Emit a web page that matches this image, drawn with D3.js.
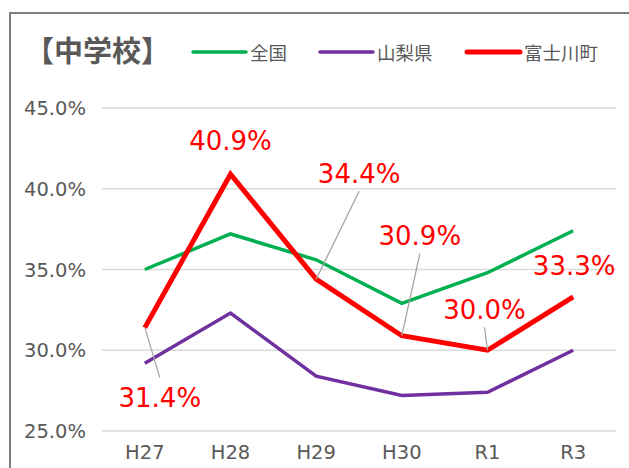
<!DOCTYPE html>
<html>
<head>
<meta charset="utf-8">
<script src="https://cdn.jsdelivr.net/npm/d3@7"></script>
<style>
  body { margin: 0; background: #fff; }
  text { font-family: "DejaVu Sans", "Noto Sans CJK JP", sans-serif; }
</style>
</head>
<body>
<div id="chart"></div>
<script>
// data
const years = ["H27", "H28", "H29", "H30", "R1", "R3"];
const zenkoku = [35.0, 37.2, 35.6, 32.9, 34.8, 37.4];
const yamanashi = [29.2, 32.3, 28.4, 27.2, 27.4, 30.0];
const fujikawa = [31.4, 40.9, 34.4, 30.9, 30.0, 33.3];
const yTicks = [25, 30, 35, 40, 45];

const width = 629, height = 468;

const svg = d3.select("#chart")
  .append("svg")
  .attr("width", width)
  .attr("height", height);

// frame (cut off at right and bottom like the source)
svg.append("rect")
  .attr("x", 10).attr("y", 13)
  .attr("width", 700).attr("height", 600)
  .attr("fill", "none")
  .attr("stroke", "#7f7f7f")
  .attr("stroke-width", 2);

const x = d3.scalePoint().domain(years).range([102, 616]).padding(0.5);
const y = d3.scaleLinear().domain([25, 45]).range([431, 108]);

// gridlines
svg.selectAll(".grid")
  .data(yTicks)
  .enter()
  .append("line")
  .attr("x1", 102).attr("x2", 616)
  .attr("y1", d => y(d)).attr("y2", d => y(d))
  .attr("stroke", "#d9d9d9")
  .attr("stroke-width", 1.5);

// y labels
svg.selectAll(".ylab")
  .data(yTicks)
  .enter()
  .append("text")
  .attr("x", 86)
  .attr("y", d => y(d))
  .attr("dy", "0.36em")
  .attr("text-anchor", "end")
  .attr("font-size", 19.5)
  .attr("fill", "#595959")
  .text(d => d.toFixed(1) + "%");

// x labels
svg.selectAll(".xlab")
  .data(years)
  .enter()
  .append("text")
  .attr("x", d => x(d))
  .attr("y", 452)
  .attr("dy", "0.36em")
  .attr("text-anchor", "middle")
  .attr("font-size", 19.5)
  .attr("fill", "#595959")
  .text(d => d);

const line = d3.line().x((d, i) => x(years[i])).y(d => y(d));

const series = [
  { name: "全国", values: zenkoku, color: "#00b050", w: 3.5 },
  { name: "山梨県", values: yamanashi, color: "#7030a0", w: 3.5 },
  { name: "富士川町", values: fujikawa, color: "#ff0000", w: 5 }
];

series.forEach(s => {
  svg.append("path")
    .datum(s.values)
    .attr("d", line)
    .attr("fill", "none")
    .attr("stroke", s.color)
    .attr("stroke-width", s.w)
    .attr("stroke-linejoin", "miter");
});

// data labels for 富士川町 (label offsets from point)
const labelPos = [
  { dx: 15, dy: 70, lead: true },
  { dx: 0, dy: -34, lead: false },
  { dx: 43, dy: -106, lead: true },
  { dx: 18, dy: -100, lead: true },
  { dx: -3, dy: -41, lead: true },
  { dx: 1, dy: -31, lead: false }
];

fujikawa.forEach((v, i) => {
  const px = x(years[i]), py = y(v);
  const p = labelPos[i];
  if (p.lead) {
    const ty = p.dy > 0 ? py + p.dy - 20 : py + p.dy + 18;
    svg.append("line")
      .attr("x1", px).attr("y1", py)
      .attr("x2", px + p.dx).attr("y2", ty)
      .attr("stroke", "#a6a6a6")
      .attr("stroke-width", 1.3);
  }
  svg.append("text")
    .attr("x", px + p.dx)
    .attr("y", py + p.dy)
    .attr("dy", "0.36em")
    .attr("text-anchor", "middle")
    .attr("font-size", 26)
    .attr("fill", "#ff0000")
    .text(v.toFixed(1) + "%");
});

// title
svg.append("text")
  .attr("x", 25).attr("y", 52)
  .attr("dy", "0.36em")
  .attr("font-size", 29)
  .attr("font-weight", "bold")
  .attr("fill", "#595959")
  .style("font-family", "'Noto Sans CJK JP', sans-serif")
  .text("【中学校】");

// legend
const legX = [193, 320, 467];
series.forEach((s, i) => {
  svg.append("line")
    .attr("x1", legX[i]).attr("x2", legX[i] + 53)
    .attr("y1", 52).attr("y2", 52)
    .attr("stroke", s.color)
    .attr("stroke-width", s.w)
    .attr("stroke-linecap", "round");
  svg.append("text")
    .attr("x", legX[i] + 57).attr("y", 53)
    .attr("dy", "0.36em")
    .attr("font-size", 18.5)
    .attr("fill", "#595959")
    .style("font-family", "'Noto Sans CJK JP', sans-serif")
    .text(s.name);
});
</script>
</body>
</html>
